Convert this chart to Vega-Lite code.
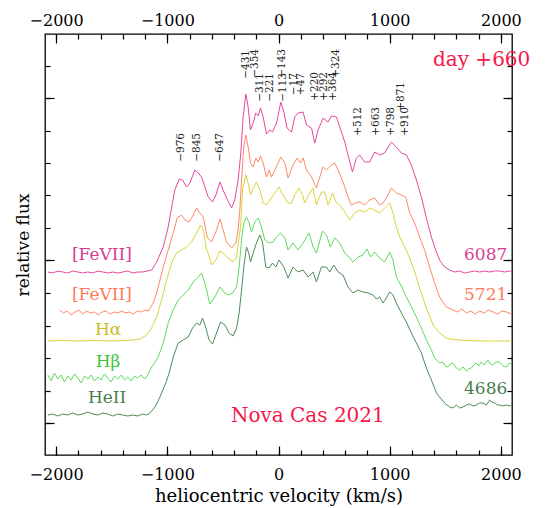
{
"$schema": "https://vega.github.io/schema/vega-lite/v6.json",
"width": 467, "height": 421,
"autosize": "none",
"padding": {"left": 45, "top": 34, "right": 46, "bottom": 53},
"background": "white",
"config": {"view": {"stroke": "#000", "strokeWidth": 1.3}, "font": "DejaVu Serif"},
"resolve": {"axis": {"x": "independent", "y": "independent"}, "scale": {"color": "independent"}},
"layer": [
{
"data": {"values": [
{"s":"m","v":-2075,"f":1.83},{"s":"m","v":-2030,"f":1.82},{"s":"m","v":-1985,"f":1.84},{"s":"m","v":-1940,"f":1.83},{"s":"m","v":-1895,"f":1.82},{"s":"m","v":-1850,"f":1.84},{"s":"m","v":-1805,"f":1.83},{"s":"m","v":-1760,"f":1.82},{"s":"m","v":-1715,"f":1.83},{"s":"m","v":-1670,"f":1.82},{"s":"m","v":-1625,"f":1.84},{"s":"m","v":-1580,"f":1.83},{"s":"m","v":-1535,"f":1.82},{"s":"m","v":-1490,"f":1.83},{"s":"m","v":-1445,"f":1.82},{"s":"m","v":-1400,"f":1.83},{"s":"m","v":-1355,"f":1.84},{"s":"m","v":-1310,"f":1.82},{"s":"m","v":-1265,"f":1.83},{"s":"m","v":-1220,"f":1.83},{"s":"m","v":-1180,"f":1.84},
{"s":"m","v":-1141,"f":1.85},{"s":"m","v":-1096,"f":1.93},{"s":"m","v":-1037,"f":2.08},{"s":"m","v":-992,"f":2.28},{"s":"m","v":-961,"f":2.48},{"s":"m","v":-932,"f":2.65},{"s":"m","v":-893,"f":2.76},{"s":"m","v":-863,"f":2.75},{"s":"m","v":-827,"f":2.68},{"s":"m","v":-797,"f":2.72},{"s":"m","v":-752,"f":2.85},{"s":"m","v":-722,"f":2.82},{"s":"m","v":-692,"f":2.78},{"s":"m","v":-662,"f":2.68},{"s":"m","v":-633,"f":2.58},{"s":"m","v":-593,"f":2.53},{"s":"m","v":-563,"f":2.60},{"s":"m","v":-527,"f":2.73},{"s":"m","v":-498,"f":2.65},{"s":"m","v":-467,"f":2.57},{"s":"m","v":-422,"f":2.47},{"s":"m","v":-393,"f":2.55},{"s":"m","v":-363,"f":2.75},{"s":"m","v":-339,"f":3.02},{"s":"m","v":-318,"f":3.38},{"s":"m","v":-294,"f":3.61},{"s":"m","v":-273,"f":3.48},{"s":"m","v":-252,"f":3.25},{"s":"m","v":-228,"f":3.32},{"s":"m","v":-204,"f":3.42},{"s":"m","v":-183,"f":3.39},{"s":"m","v":-162,"f":3.47},{"s":"m","v":-138,"f":3.38},{"s":"m","v":-108,"f":3.21},{"s":"m","v":-78,"f":3.25},{"s":"m","v":-54,"f":3.23},{"s":"m","v":-18,"f":3.32},{"s":"m","v":21,"f":3.53},{"s":"m","v":48,"f":3.43},{"s":"m","v":77,"f":3.27},{"s":"m","v":117,"f":3.23},{"s":"m","v":146,"f":3.38},{"s":"m","v":176,"f":3.42},{"s":"m","v":221,"f":3.43},{"s":"m","v":252,"f":3.30},{"s":"m","v":297,"f":3.27},{"s":"m","v":326,"f":3.12},{"s":"m","v":356,"f":3.25},{"s":"m","v":401,"f":3.37},{"s":"m","v":446,"f":3.33},{"s":"m","v":476,"f":3.39},{"s":"m","v":521,"f":3.38},{"s":"m","v":551,"f":3.28},{"s":"m","v":596,"f":3.13},{"s":"m","v":625,"f":3.00},{"s":"m","v":665,"f":2.83},{"s":"m","v":701,"f":2.97},{"s":"m","v":730,"f":3.00},{"s":"m","v":775,"f":2.93},{"s":"m","v":820,"f":2.93},{"s":"m","v":865,"f":3.03},{"s":"m","v":910,"f":3.00},{"s":"m","v":955,"f":3.02},{"s":"m","v":1015,"f":3.13},{"s":"m","v":1060,"f":3.08},{"s":"m","v":1105,"f":3.02},{"s":"m","v":1150,"f":3.00},{"s":"m","v":1195,"f":2.90},{"s":"m","v":1240,"f":2.75},{"s":"m","v":1285,"f":2.58},{"s":"m","v":1330,"f":2.37},{"s":"m","v":1375,"f":2.18},{"s":"m","v":1420,"f":2.03},{"s":"m","v":1449,"f":1.95},{"s":"m","v":1494,"f":1.88},{"s":"m","v":1539,"f":1.85},{"s":"m","v":1584,"f":1.83},{"s":"m","v":1629,"f":1.84},{"s":"m","v":1674,"f":1.82},{"s":"m","v":1719,"f":1.83},{"s":"m","v":1764,"f":1.84},{"s":"m","v":1809,"f":1.83},{"s":"m","v":1854,"f":1.84},{"s":"m","v":1899,"f":1.83},{"s":"m","v":1944,"f":1.84},{"s":"m","v":1989,"f":1.84},{"s":"m","v":2034,"f":1.83},{"s":"m","v":2079,"f":1.84},{"s":"m","v":2100,"f":1.84},
{"s":"o","v":-1968,"f":1.45},{"s":"o","v":-1935,"f":1.42},{"s":"o","v":-1900,"f":1.44},{"s":"o","v":-1865,"f":1.40},{"s":"o","v":-1830,"f":1.43},{"s":"o","v":-1795,"f":1.45},{"s":"o","v":-1760,"f":1.41},{"s":"o","v":-1725,"f":1.44},{"s":"o","v":-1690,"f":1.42},{"s":"o","v":-1655,"f":1.43},{"s":"o","v":-1620,"f":1.40},{"s":"o","v":-1585,"f":1.43},{"s":"o","v":-1550,"f":1.44},{"s":"o","v":-1515,"f":1.41},{"s":"o","v":-1480,"f":1.43},{"s":"o","v":-1445,"f":1.42},{"s":"o","v":-1410,"f":1.44},{"s":"o","v":-1375,"f":1.42},{"s":"o","v":-1340,"f":1.43},{"s":"o","v":-1305,"f":1.41},{"s":"o","v":-1270,"f":1.44},{"s":"o","v":-1235,"f":1.43},{"s":"o","v":-1200,"f":1.45},{"s":"o","v":-1170,"f":1.44},
{"s":"o","v":-1155,"f":1.47},{"s":"o","v":-1127,"f":1.52},{"s":"o","v":-1096,"f":1.62},{"s":"o","v":-1066,"f":1.75},{"s":"o","v":-1037,"f":1.88},{"s":"o","v":-992,"f":2.05},{"s":"o","v":-947,"f":2.22},{"s":"o","v":-911,"f":2.37},{"s":"o","v":-872,"f":2.40},{"s":"o","v":-842,"f":2.35},{"s":"o","v":-803,"f":2.33},{"s":"o","v":-767,"f":2.40},{"s":"o","v":-737,"f":2.47},{"s":"o","v":-707,"f":2.42},{"s":"o","v":-677,"f":2.38},{"s":"o","v":-642,"f":2.18},{"s":"o","v":-602,"f":2.13},{"s":"o","v":-563,"f":2.23},{"s":"o","v":-527,"f":2.36},{"s":"o","v":-498,"f":2.25},{"s":"o","v":-467,"f":2.13},{"s":"o","v":-422,"f":2.07},{"s":"o","v":-384,"f":2.12},{"s":"o","v":-363,"f":2.25},{"s":"o","v":-348,"f":2.45},{"s":"o","v":-332,"f":2.75},{"s":"o","v":-312,"f":3.08},{"s":"o","v":-294,"f":3.20},{"s":"o","v":-273,"f":3.08},{"s":"o","v":-252,"f":2.92},{"s":"o","v":-228,"f":2.88},{"s":"o","v":-204,"f":2.97},{"s":"o","v":-183,"f":2.93},{"s":"o","v":-162,"f":2.99},{"s":"o","v":-138,"f":2.92},{"s":"o","v":-108,"f":2.78},{"s":"o","v":-84,"f":2.85},{"s":"o","v":-63,"f":2.78},{"s":"o","v":-33,"f":2.85},{"s":"o","v":21,"f":2.98},{"s":"o","v":57,"f":2.92},{"s":"o","v":86,"f":2.77},{"s":"o","v":131,"f":2.90},{"s":"o","v":167,"f":2.97},{"s":"o","v":198,"f":2.92},{"s":"o","v":221,"f":2.97},{"s":"o","v":252,"f":2.85},{"s":"o","v":297,"f":2.78},{"s":"o","v":341,"f":2.67},{"s":"o","v":371,"f":2.78},{"s":"o","v":401,"f":2.88},{"s":"o","v":431,"f":2.85},{"s":"o","v":476,"f":2.90},{"s":"o","v":506,"f":2.92},{"s":"o","v":536,"f":2.85},{"s":"o","v":566,"f":2.77},{"s":"o","v":596,"f":2.68},{"s":"o","v":625,"f":2.58},{"s":"o","v":656,"f":2.50},{"s":"o","v":686,"f":2.52},{"s":"o","v":730,"f":2.53},{"s":"o","v":775,"f":2.50},{"s":"o","v":820,"f":2.55},{"s":"o","v":865,"f":2.57},{"s":"o","v":910,"f":2.50},{"s":"o","v":940,"f":2.52},{"s":"o","v":970,"f":2.57},{"s":"o","v":1015,"f":2.67},{"s":"o","v":1060,"f":2.62},{"s":"o","v":1105,"f":2.60},{"s":"o","v":1144,"f":2.58},{"s":"o","v":1180,"f":2.42},{"s":"o","v":1225,"f":2.32},{"s":"o","v":1269,"f":2.18},{"s":"o","v":1314,"f":2.05},{"s":"o","v":1359,"f":1.88},{"s":"o","v":1404,"f":1.72},{"s":"o","v":1449,"f":1.58},{"s":"o","v":1509,"f":1.48},{"s":"o","v":1569,"f":1.45},{"s":"o","v":1609,"f":1.43},{"s":"o","v":1649,"f":1.46},{"s":"o","v":1689,"f":1.42},{"s":"o","v":1729,"f":1.44},{"s":"o","v":1769,"f":1.41},{"s":"o","v":1809,"f":1.44},{"s":"o","v":1849,"f":1.42},{"s":"o","v":1889,"f":1.45},{"s":"o","v":1929,"f":1.43},{"s":"o","v":1969,"f":1.41},{"s":"o","v":2009,"f":1.44},{"s":"o","v":2049,"f":1.43},{"s":"o","v":2096,"f":1.41},
{"s":"y","v":-2080,"f":1.14},{"s":"y","v":-1950,"f":1.145},{"s":"y","v":-1800,"f":1.14},{"s":"y","v":-1650,"f":1.145},{"s":"y","v":-1500,"f":1.14},{"s":"y","v":-1380,"f":1.145},{"s":"y","v":-1300,"f":1.15},{"s":"y","v":-1246,"f":1.16},{"s":"y","v":-1186,"f":1.20},{"s":"y","v":-1141,"f":1.27},{"s":"y","v":-1096,"f":1.38},{"s":"y","v":-1051,"f":1.55},{"s":"y","v":-1006,"f":1.75},{"s":"y","v":-961,"f":1.92},{"s":"y","v":-916,"f":2.02},{"s":"y","v":-872,"f":2.05},{"s":"y","v":-827,"f":2.08},{"s":"y","v":-782,"f":2.13},{"s":"y","v":-737,"f":2.22},{"s":"y","v":-701,"f":2.30},{"s":"y","v":-677,"f":2.25},{"s":"y","v":-647,"f":2.05},{"s":"y","v":-633,"f":2.02},{"s":"y","v":-602,"f":1.90},{"s":"y","v":-563,"f":1.95},{"s":"y","v":-527,"f":2.04},{"s":"y","v":-498,"f":2.02},{"s":"y","v":-453,"f":1.97},{"s":"y","v":-408,"f":1.93},{"s":"y","v":-377,"f":1.98},{"s":"y","v":-354,"f":2.18},{"s":"y","v":-341,"f":2.28},{"s":"y","v":-323,"f":2.65},{"s":"y","v":-294,"f":2.80},{"s":"y","v":-273,"f":2.72},{"s":"y","v":-252,"f":2.60},{"s":"y","v":-222,"f":2.68},{"s":"y","v":-198,"f":2.73},{"s":"y","v":-168,"f":2.65},{"s":"y","v":-138,"f":2.52},{"s":"y","v":-108,"f":2.50},{"s":"y","v":-78,"f":2.55},{"s":"y","v":-33,"f":2.62},{"s":"y","v":5,"f":2.68},{"s":"y","v":41,"f":2.60},{"s":"y","v":86,"f":2.52},{"s":"y","v":117,"f":2.52},{"s":"y","v":146,"f":2.60},{"s":"y","v":185,"f":2.67},{"s":"y","v":216,"f":2.60},{"s":"y","v":236,"f":2.52},{"s":"y","v":281,"f":2.62},{"s":"y","v":311,"f":2.67},{"s":"y","v":341,"f":2.50},{"s":"y","v":386,"f":2.63},{"s":"y","v":416,"f":2.63},{"s":"y","v":446,"f":2.50},{"s":"y","v":485,"f":2.62},{"s":"y","v":521,"f":2.52},{"s":"y","v":551,"f":2.50},{"s":"y","v":596,"f":2.43},{"s":"y","v":641,"f":2.35},{"s":"y","v":686,"f":2.42},{"s":"y","v":730,"f":2.45},{"s":"y","v":775,"f":2.43},{"s":"y","v":820,"f":2.47},{"s":"y","v":865,"f":2.45},{"s":"y","v":910,"f":2.42},{"s":"y","v":955,"f":2.47},{"s":"y","v":1000,"f":2.52},{"s":"y","v":1030,"f":2.42},{"s":"y","v":1060,"f":2.28},{"s":"y","v":1090,"f":2.18},{"s":"y","v":1135,"f":2.08},{"s":"y","v":1180,"f":1.97},{"s":"y","v":1225,"f":1.83},{"s":"y","v":1269,"f":1.67},{"s":"y","v":1330,"f":1.47},{"s":"y","v":1390,"f":1.30},{"s":"y","v":1449,"f":1.22},{"s":"y","v":1509,"f":1.17},{"s":"y","v":1539,"f":1.16},{"s":"y","v":1620,"f":1.15},{"s":"y","v":1689,"f":1.145},{"s":"y","v":1800,"f":1.14},{"s":"y","v":1950,"f":1.14},{"s":"y","v":2096,"f":1.14},
{"s":"g","v":-2075,"f":0.80},{"s":"g","v":-2045,"f":0.74},{"s":"g","v":-2015,"f":0.82},{"s":"g","v":-1985,"f":0.76},{"s":"g","v":-1955,"f":0.80},{"s":"g","v":-1925,"f":0.73},{"s":"g","v":-1895,"f":0.79},{"s":"g","v":-1865,"f":0.75},{"s":"g","v":-1835,"f":0.81},{"s":"g","v":-1805,"f":0.77},{"s":"g","v":-1775,"f":0.72},{"s":"g","v":-1745,"f":0.79},{"s":"g","v":-1715,"f":0.76},{"s":"g","v":-1685,"f":0.80},{"s":"g","v":-1655,"f":0.74},{"s":"g","v":-1625,"f":0.78},{"s":"g","v":-1595,"f":0.75},{"s":"g","v":-1565,"f":0.81},{"s":"g","v":-1535,"f":0.77},{"s":"g","v":-1505,"f":0.73},{"s":"g","v":-1475,"f":0.79},{"s":"g","v":-1445,"f":0.76},{"s":"g","v":-1415,"f":0.80},{"s":"g","v":-1385,"f":0.75},{"s":"g","v":-1355,"f":0.78},{"s":"g","v":-1325,"f":0.74},{"s":"g","v":-1295,"f":0.79},{"s":"g","v":-1265,"f":0.77},{"s":"g","v":-1235,"f":0.80},{"s":"g","v":-1205,"f":0.76},{"s":"g","v":-1175,"f":0.80},{"s":"g","v":-1160,"f":0.84},
{"s":"g","v":-1141,"f":0.88},{"s":"g","v":-1127,"f":0.90},{"s":"g","v":-1082,"f":0.98},{"s":"g","v":-1037,"f":1.12},{"s":"g","v":-992,"f":1.32},{"s":"g","v":-947,"f":1.45},{"s":"g","v":-902,"f":1.55},{"s":"g","v":-857,"f":1.60},{"s":"g","v":-812,"f":1.65},{"s":"g","v":-767,"f":1.73},{"s":"g","v":-722,"f":1.78},{"s":"g","v":-692,"f":1.82},{"s":"g","v":-662,"f":1.72},{"s":"g","v":-617,"f":1.51},{"s":"g","v":-572,"f":1.58},{"s":"g","v":-527,"f":1.68},{"s":"g","v":-491,"f":1.63},{"s":"g","v":-453,"f":1.60},{"s":"g","v":-413,"f":1.62},{"s":"g","v":-377,"f":1.68},{"s":"g","v":-354,"f":1.88},{"s":"g","v":-332,"f":2.15},{"s":"g","v":-312,"f":2.32},{"s":"g","v":-288,"f":2.38},{"s":"g","v":-264,"f":2.32},{"s":"g","v":-243,"f":2.23},{"s":"g","v":-213,"f":2.33},{"s":"g","v":-183,"f":2.37},{"s":"g","v":-153,"f":2.28},{"s":"g","v":-123,"f":2.15},{"s":"g","v":-84,"f":2.12},{"s":"g","v":-49,"f":2.13},{"s":"g","v":-18,"f":2.18},{"s":"g","v":18,"f":2.22},{"s":"g","v":57,"f":2.17},{"s":"g","v":86,"f":2.05},{"s":"g","v":131,"f":2.12},{"s":"g","v":176,"f":2.05},{"s":"g","v":221,"f":2.12},{"s":"g","v":275,"f":2.22},{"s":"g","v":311,"f":2.08},{"s":"g","v":341,"f":2.02},{"s":"g","v":395,"f":2.24},{"s":"g","v":431,"f":2.20},{"s":"g","v":467,"f":2.08},{"s":"g","v":506,"f":2.17},{"s":"g","v":551,"f":2.12},{"s":"g","v":596,"f":2.02},{"s":"g","v":641,"f":1.97},{"s":"g","v":670,"f":1.93},{"s":"g","v":715,"f":1.98},{"s":"g","v":760,"f":2.00},{"s":"g","v":796,"f":2.06},{"s":"g","v":827,"f":1.98},{"s":"g","v":865,"f":2.03},{"s":"g","v":910,"f":1.97},{"s":"g","v":955,"f":1.93},{"s":"g","v":1000,"f":2.03},{"s":"g","v":1030,"f":1.95},{"s":"g","v":1060,"f":1.78},{"s":"g","v":1105,"f":1.69},{"s":"g","v":1150,"f":1.58},{"s":"g","v":1195,"f":1.48},{"s":"g","v":1240,"f":1.38},{"s":"g","v":1285,"f":1.27},{"s":"g","v":1330,"f":1.15},{"s":"g","v":1375,"f":1.05},{"s":"g","v":1404,"f":0.97},{"s":"g","v":1420,"f":0.95},{"s":"g","v":1450,"f":0.92},{"s":"g","v":1479,"f":0.93},{"s":"g","v":1500,"f":0.89},{"s":"g","v":1524,"f":0.88},{"s":"g","v":1545,"f":0.91},{"s":"g","v":1569,"f":0.92},{"s":"g","v":1600,"f":0.87},{"s":"g","v":1629,"f":0.85},{"s":"g","v":1660,"f":0.88},{"s":"g","v":1689,"f":0.84},{"s":"g","v":1710,"f":0.86},{"s":"g","v":1734,"f":0.87},{"s":"g","v":1755,"f":0.90},{"s":"g","v":1779,"f":0.92},{"s":"g","v":1800,"f":0.89},{"s":"g","v":1824,"f":0.93},{"s":"g","v":1850,"f":0.90},{"s":"g","v":1883,"f":0.95},{"s":"g","v":1905,"f":0.91},{"s":"g","v":1928,"f":0.90},{"s":"g","v":1955,"f":0.93},{"s":"g","v":1988,"f":0.93},{"s":"g","v":2020,"f":0.89},{"s":"g","v":2049,"f":0.88},{"s":"g","v":2075,"f":0.92},{"s":"g","v":2096,"f":0.91},
{"s":"h","v":-2075,"f":0.40},{"s":"h","v":-2030,"f":0.41},{"s":"h","v":-1985,"f":0.39},{"s":"h","v":-1940,"f":0.41},{"s":"h","v":-1895,"f":0.40},{"s":"h","v":-1850,"f":0.42},{"s":"h","v":-1805,"f":0.40},{"s":"h","v":-1760,"f":0.41},{"s":"h","v":-1715,"f":0.43},{"s":"h","v":-1670,"f":0.41},{"s":"h","v":-1625,"f":0.40},{"s":"h","v":-1580,"f":0.42},{"s":"h","v":-1535,"f":0.41},{"s":"h","v":-1490,"f":0.39},{"s":"h","v":-1445,"f":0.41},{"s":"h","v":-1400,"f":0.40},{"s":"h","v":-1355,"f":0.39},{"s":"h","v":-1310,"f":0.40},{"s":"h","v":-1265,"f":0.39},{"s":"h","v":-1220,"f":0.41},{"s":"h","v":-1185,"f":0.40},
{"s":"h","v":-1157,"f":0.42},{"s":"h","v":-1111,"f":0.48},{"s":"h","v":-1066,"f":0.58},{"s":"h","v":-1021,"f":0.70},{"s":"h","v":-983,"f":0.82},{"s":"h","v":-947,"f":0.98},{"s":"h","v":-902,"f":1.12},{"s":"h","v":-857,"f":1.15},{"s":"h","v":-812,"f":1.18},{"s":"h","v":-773,"f":1.27},{"s":"h","v":-737,"f":1.32},{"s":"h","v":-707,"f":1.30},{"s":"h","v":-683,"f":1.37},{"s":"h","v":-653,"f":1.27},{"s":"h","v":-624,"f":1.15},{"s":"h","v":-593,"f":1.11},{"s":"h","v":-557,"f":1.22},{"s":"h","v":-521,"f":1.33},{"s":"h","v":-482,"f":1.30},{"s":"h","v":-444,"f":1.22},{"s":"h","v":-408,"f":1.19},{"s":"h","v":-377,"f":1.27},{"s":"h","v":-354,"f":1.42},{"s":"h","v":-332,"f":1.65},{"s":"h","v":-312,"f":1.88},{"s":"h","v":-288,"f":2.08},{"s":"h","v":-267,"f":2.02},{"s":"h","v":-252,"f":1.93},{"s":"h","v":-228,"f":2.02},{"s":"h","v":-198,"f":2.12},{"s":"h","v":-168,"f":2.20},{"s":"h","v":-144,"f":2.13},{"s":"h","v":-114,"f":1.88},{"s":"h","v":-84,"f":1.87},{"s":"h","v":-54,"f":1.92},{"s":"h","v":-24,"f":1.88},{"s":"h","v":5,"f":1.95},{"s":"h","v":48,"f":1.88},{"s":"h","v":86,"f":1.77},{"s":"h","v":131,"f":1.88},{"s":"h","v":176,"f":1.83},{"s":"h","v":221,"f":1.85},{"s":"h","v":266,"f":1.78},{"s":"h","v":311,"f":1.83},{"s":"h","v":341,"f":1.73},{"s":"h","v":386,"f":1.88},{"s":"h","v":431,"f":1.88},{"s":"h","v":461,"f":1.83},{"s":"h","v":497,"f":1.90},{"s":"h","v":536,"f":1.83},{"s":"h","v":580,"f":1.80},{"s":"h","v":625,"f":1.68},{"s":"h","v":670,"f":1.62},{"s":"h","v":715,"f":1.65},{"s":"h","v":760,"f":1.63},{"s":"h","v":805,"f":1.62},{"s":"h","v":850,"f":1.60},{"s":"h","v":881,"f":1.56},{"s":"h","v":910,"f":1.58},{"s":"h","v":940,"f":1.52},{"s":"h","v":970,"f":1.57},{"s":"h","v":1000,"f":1.63},{"s":"h","v":1030,"f":1.60},{"s":"h","v":1060,"f":1.52},{"s":"h","v":1105,"f":1.42},{"s":"h","v":1150,"f":1.33},{"s":"h","v":1195,"f":1.22},{"s":"h","v":1240,"f":1.12},{"s":"h","v":1285,"f":1.02},{"s":"h","v":1330,"f":0.87},{"s":"h","v":1375,"f":0.75},{"s":"h","v":1420,"f":0.62},{"s":"h","v":1449,"f":0.58},{"s":"h","v":1494,"f":0.52},{"s":"h","v":1539,"f":0.48},{"s":"h","v":1570,"f":0.47},{"s":"h","v":1599,"f":0.50},{"s":"h","v":1630,"f":0.47},{"s":"h","v":1659,"f":0.48},{"s":"h","v":1690,"f":0.50},{"s":"h","v":1719,"f":0.51},{"s":"h","v":1750,"f":0.49},{"s":"h","v":1779,"f":0.50},{"s":"h","v":1810,"f":0.52},{"s":"h","v":1839,"f":0.52},{"s":"h","v":1870,"f":0.50},{"s":"h","v":1899,"f":0.55},{"s":"h","v":1920,"f":0.53},{"s":"h","v":1944,"f":0.52},{"s":"h","v":1970,"f":0.50},{"s":"h","v":1988,"f":0.50},{"s":"h","v":2020,"f":0.49},{"s":"h","v":2049,"f":0.50},{"s":"h","v":2075,"f":0.49},{"s":"h","v":2096,"f":0.50}
]},
"mark": {"type": "line", "strokeWidth": 1, "interpolate": "linear"},
"encoding": {
"x": {"field": "v", "type": "quantitative", "scale": {"domain": [-2100, 2100], "nice": false, "zero": false},
"axis": {"orient": "bottom", "values": [-2000, -1000, 0, 1000, 2000], "format": "d", "tickSize": -9, "tickWidth": 1.2, "tickColor": "#000", "domain": false, "grid": false, "labelFont": "DejaVu Serif", "labelFontSize": 16, "labelColor": "#000", "labelPadding": 20, "labelFlush": false, "labelOverlap": false, "title": "heliocentric velocity (km/s)", "titleFont": "DejaVu Serif", "titleFontSize": 18, "titleFontWeight": "normal", "titleColor": "#000", "titlePadding": 5}},
"y": {"field": "f", "type": "quantitative", "scale": {"domain": [0, 4.21], "nice": false, "zero": false},
"axis": {"orient": "left", "values": [0.32, 1.945, 3.57], "tickSize": -9, "tickWidth": 1.2, "tickColor": "#000", "domain": false, "grid": false, "labels": false, "title": "relative flux", "titleFont": "DejaVu Serif", "titleFontSize": 17, "titleFontWeight": "normal", "titleColor": "#000", "titlePadding": 12}},
"color": {"field": "s", "type": "nominal", "legend": null, "scale": {"domain": ["m", "o", "y", "g", "h"], "range": ["#e6489e", "#ff8866", "#d9d43a", "#5cdc5c", "#4e8c56"]}},
"detail": {"field": "s"}
}
},
{
"data": {"values": [
{"s":"m","v":-1588,"f":2.00,"t":"[FeVII]"},{"s":"m","v":1863,"f":2.00,"t":"6087"},
{"s":"o","v":-1588,"f":1.60,"t":"[FeVII]"},{"s":"o","v":1863,"f":1.60,"t":"5721"},
{"s":"y","v":-1533,"f":1.25,"t":"Hα"},{"s":"g","v":-1533,"f":0.93,"t":"Hβ"},
{"s":"h","v":-1542,"f":0.57,"t":"HeII"},{"s":"h","v":1863,"f":0.66,"t":"4686"}
]},
"mark": {"type": "text", "font": "DejaVu Serif", "fontSize": 17, "align": "center", "baseline": "middle"},
"encoding": {
"x": {"field": "v", "type": "quantitative", "axis": {"orient": "bottom", "values": [-2000,-1800,-1600,-1400,-1200,-1000,-800,-600,-400,-200,0,200,400,600,800,1000,1200,1400,1600,1800,2000], "tickSize": -5, "tickWidth": 1.2, "tickColor": "#000", "domain": false, "grid": false, "labels": false, "title": null}},
"y": {"field": "f", "type": "quantitative", "axis": {"orient": "left", "values": [0.32,0.645,0.97,1.295,1.62,1.945,2.27,2.595,2.92,3.245,3.57,3.895], "tickSize": -5, "tickWidth": 1.2, "tickColor": "#000", "domain": false, "grid": false, "labels": false, "title": null}},
"text": {"field": "t"},
"color": {"field": "s", "type": "nominal", "legend": null, "scale": {"domain": ["m", "o", "y", "g", "h"], "range": ["#d63d8f", "#ff7a5a", "#c9bd22", "#3cc43c", "#4b7c4e"]}}
}
},
{
"data": {"values": [
{"v":-880,"f":3.22,"t":"−976"},{"v":-737,"f":3.22,"t":"−845"},{"v":-527,"f":3.22,"t":"−647"},
{"v":-288,"f":4.05,"t":"−431"},{"v":-213,"f":4.06,"t":"−354"},{"v":-162,"f":3.82,"t":"−311"},{"v":-72,"f":3.82,"t":"−221"},
{"v":27,"f":4.06,"t":"−143"},{"v":39,"f":3.82,"t":"−113"},{"v":140,"f":3.82,"t":"−17"},{"v":206,"f":3.82,"t":"+47"},
{"v":329,"f":3.83,"t":"+220"},{"v":407,"f":3.83,"t":"+292"},{"v":488,"f":3.83,"t":"+364"},{"v":521,"f":4.06,"t":"+324"},
{"v":715,"f":3.48,"t":"+512"},{"v":874,"f":3.48,"t":"+663"},{"v":1015,"f":3.48,"t":"+798"},{"v":1135,"f":3.48,"t":"+910"},{"v":1105,"f":3.73,"t":"+871"}
]},
"mark": {"type": "text", "font": "DejaVu Serif", "fontSize": 10.5, "angle": 270, "align": "right", "baseline": "middle", "color": "#222"},
"encoding": {
"x": {"field": "v", "type": "quantitative", "axis": {"orient": "top", "values": [-2000, -1000, 0, 1000, 2000], "format": "d", "tickSize": -9, "tickWidth": 1.2, "tickColor": "#000", "domain": false, "grid": false, "labelFont": "DejaVu Serif", "labelFontSize": 16, "labelColor": "#000", "labelPadding": 15, "labelFlush": false, "labelOverlap": false, "title": null}},
"y": {"field": "f", "type": "quantitative", "axis": {"orient": "right", "values": [0.32, 1.945, 3.57], "tickSize": -9, "tickWidth": 1.2, "tickColor": "#000", "domain": false, "grid": false, "labels": false, "title": null}},
"text": {"field": "t"}
}
},
{
"data": {"values": [
{"v":1827,"f":3.95,"t":"day +660"},{"v":264,"f":0.39,"t":"Nova Cas 2021"}
]},
"mark": {"type": "text", "font": "DejaVu Serif", "fontSize": 20, "align": "center", "baseline": "middle", "color": "#f5184a"},
"encoding": {
"x": {"field": "v", "type": "quantitative", "axis": {"orient": "top", "values": [-2000,-1800,-1600,-1400,-1200,-1000,-800,-600,-400,-200,0,200,400,600,800,1000,1200,1400,1600,1800,2000], "tickSize": -5, "tickWidth": 1.2, "tickColor": "#000", "domain": false, "grid": false, "labels": false, "title": null}},
"y": {"field": "f", "type": "quantitative", "axis": {"orient": "right", "values": [0.32,0.645,0.97,1.295,1.62,1.945,2.27,2.595,2.92,3.245,3.57,3.895], "tickSize": -5, "tickWidth": 1.2, "tickColor": "#000", "domain": false, "grid": false, "labels": false, "title": null}},
"text": {"field": "t"}
}
}
]
}
